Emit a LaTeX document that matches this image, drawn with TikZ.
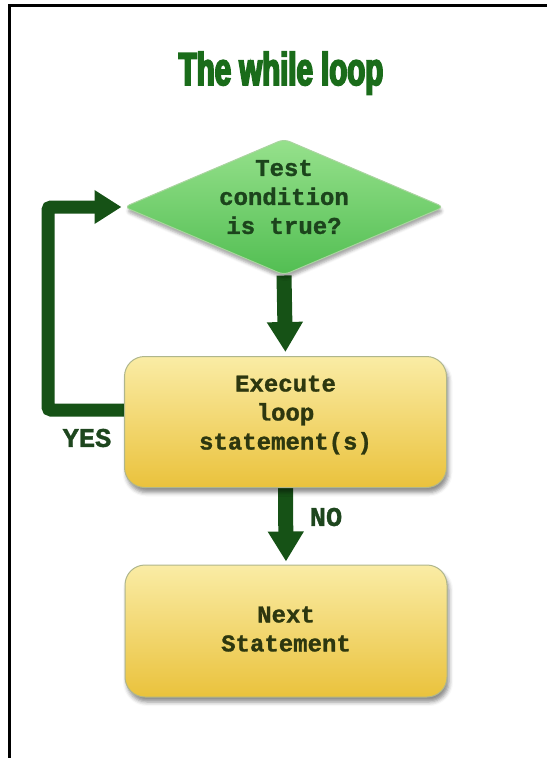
\documentclass[tikz,border=0pt]{standalone}
\usepackage{fontspec}
\setmonofont[BoldFeatures={FakeBold=1.2}]{Liberation Mono}
\newfontfamily\titlefont[FakeStretch=0.64,FakeBold=4]{Liberation Sans}
\usetikzlibrary{shapes.geometric,arrows.meta,shadows.blur,backgrounds}

\definecolor{arrowgreen}{RGB}{22,82,22}
\definecolor{titlegreen}{RGB}{26,108,26}
\definecolor{labelgreen}{RGB}{30,70,30}
\definecolor{condink}{RGB}{28,68,28}
\definecolor{boxink}{RGB}{45,55,15}
\definecolor{condtop}{RGB}{150,225,140}
\definecolor{condbot}{RGB}{82,190,82}
\definecolor{condedge}{RGB}{170,212,160}
\definecolor{boxtop}{RGB}{250,236,165}
\definecolor{boxbot}{RGB}{234,194,60}
\definecolor{boxedge}{RGB}{175,182,140}

\tikzset{
  frameline/.style={draw=black, line width=3.5pt},
  titlestyle/.style={font=\titlefont\bfseries\fontsize{46}{50}\selectfont, text=titlegreen, inner sep=0pt},
  decision/.style={diamond, inner sep=0pt, minimum width=320pt, minimum height=136pt,
    top color=condtop, bottom color=condbot, draw=condedge, line width=1pt,
    rounded corners=6pt,
    blur shadow={shadow xshift=1pt, shadow yshift=-4pt, shadow blur radius=3pt, shadow opacity=35}},
  stepbox/.style={rectangle, inner sep=0pt, minimum width=322pt, minimum height=131pt,
    rounded corners=20pt, top color=boxtop, bottom color=boxbot, draw=boxedge, line width=1pt,
    blur shadow={shadow xshift=2pt, shadow yshift=-5pt, shadow blur radius=4pt, shadow opacity=45}},
  boxlabel/.style={font=\ttfamily\bfseries\fontsize{24}{29}\selectfont, align=center, inner sep=0pt},
  flowlabel/.style={font=\ttfamily\bfseries\fontsize{27}{30}\selectfont, text=labelgreen, inner sep=0pt},
  flowarrow/.style={draw=arrowgreen, line width=15pt, -{Triangle[width=34pt,length=30pt]}},
  looparrow/.style={draw=arrowgreen, line width=13pt, rounded corners=3pt,
    -{Triangle[width=32pt,length=27pt]}}
}

\begin{document}
\begin{tikzpicture}[x=1pt,y=-1pt]
  \useasboundingbox (0,0) rectangle (547,758);

  % page frame: top and left edges only
  \draw[frameline] (9.5,758) -- (9.5,5.5) -- (547,5.5);

  % title
  \node[titlestyle, anchor=base] (title) at (281,85) {The while loop};

  % flowchart shapes
  \node[decision] (cond) at (284,207) {};
  \node[boxlabel, text=condink] (condlabel) at ([yshift=10pt]cond.center) {Test\\condition\\is true?};

  \node[stepbox, minimum height=131pt] (exec) at (285.5,422) {};
  \node[boxlabel, text=boxink] (execlabel) at ([yshift=7pt]exec.center) {Execute\\loop\\statement(s)};

  \node[stepbox, minimum height=132pt] (next) at (286,631) {};
  \node[boxlabel, text=boxink] (nextlabel) at ([yshift=2pt]next.center) {Next\\Statement};

  % connectors, kept behind the shapes
  \begin{scope}[on background layer]
    \draw[flowarrow, shorten >=4pt] (cond.south) -- (exec.north);
    \draw[flowarrow, shorten >=3pt] (exec.south) -- (next.north);
    \draw[looparrow, shorten >=2pt] ([yshift=12pt]exec.west) -- ++(-76,0) |- (cond.west);
  \end{scope}

  % branch labels
  \node[flowlabel] (yes) at (87,438) {YES};
  \node[flowlabel] (no) at (326,517) {NO};
\end{tikzpicture}
\end{document}
